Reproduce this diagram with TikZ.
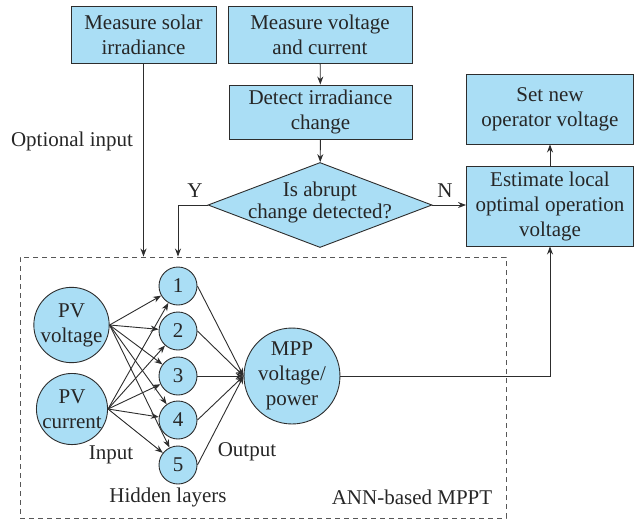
\documentclass[tikz,border=0pt]{standalone}
\usepackage{fontspec}
\setmainfont{Liberation Serif}
\usepackage{tikz}
\usetikzlibrary{shapes.geometric,arrows.meta}

\definecolor{cellblue}{RGB}{170,222,245}
\definecolor{edgegray}{RGB}{45,45,45}

\tikzset{
  every node/.style={font=\fontsize{21}{25}\selectfont, text=black!85},
  procbox/.style={draw=edgegray, line width=0.9pt, fill=cellblue,
    align=center, inner sep=0pt},
  decbox/.style={draw=edgegray, line width=0.9pt, fill=cellblue,
    diamond, inner sep=0pt, minimum width=224pt, minimum height=85pt},
  neuron/.style={draw=edgegray, line width=0.9pt, fill=cellblue,
    circle, align=center, inner sep=0pt},
  annbox/.style={draw=edgegray!80, line width=0.9pt,
    dash pattern=on 5pt off 4pt, inner sep=0pt},
  arr/.style={draw=edgegray, line width=0.9pt,
    -{Stealth[length=8pt,width=6pt]}},
  wire/.style={draw=edgegray, line width=0.9pt}
}

\begin{document}
\begin{tikzpicture}[x=1pt,y=-1pt]
\useasboundingbox (0,0) rectangle (634,520);
% flow chart boxes
\node[procbox, minimum width=145pt, minimum height=57pt] (solar) at (143.5,34.5)
  {Measure solar\\irradiance};
\node[procbox, minimum width=184pt, minimum height=57pt] (meas) at (320,34.5)
  {Measure voltage\\and current};
\node[procbox, minimum width=183pt, minimum height=54pt] (detect) at (320.5,112)
  {Detect irradiance\\change};
\node[decbox] (dec) at (320,205) {};
\node[align=center, font=\fontsize{21}{22}\selectfont] (dectxt) at (320,202)
  {Is abrupt\\change detected?};
\node[procbox, minimum width=167pt, minimum height=80pt] (est) at (550,206)
  {Estimate local\\optimal operation\\voltage};
\node[procbox, minimum width=167pt, minimum height=70pt] (setv) at (550,109)
  {Set new\\operator voltage};
% dashed frame of the network
\node[annbox, minimum width=486pt, minimum height=261pt] (ann) at (263,387.5) {};
% network nodes
\node[neuron, minimum size=70pt] (pvv) at (71.5,325) {PV\\voltage};
\node[neuron, minimum size=68pt] (pvi) at (72,409) {PV\\current};
\foreach \i/\y in {1/286,2/331,3/376,4/420,5/465}
  \node[neuron, minimum size=38pt] (h\i) at (178,\y) {\i};
\node[neuron, minimum size=92pt] (mpp) at (292,376) {MPP\\voltage/\\power};
% labels
\node (optlbl) at (72,141) {Optional input};
\node (ylbl) at (195,191) {Y};
\node (nlbl) at (445,191) {N};
\node (inlbl) at (111,455) {Input};
\node (outlbl) at (247,452) {Output};
\node (hidlbl) at (168,497) {Hidden layers};
\node (annlbl) at (412,497) {ANN-based MPPT};
% flow chart edges
\draw[arr] (meas) -- (detect);
\draw[arr] (detect) -- (dec);
\draw[arr] (solar) -- (solar |- ann.north);
\draw[arr] (dec.west) -| (h1 |- ann.north);
\draw[arr] (dec.east) -- (est.west |- dec.east);
\draw[arr] (est) -- (setv);
\draw[arr] (mpp.east) -| (est.south);
% network edges
\foreach \i in {1,...,5} {
  \draw[arr] (pvv.east) -- (h\i);
  \draw[arr] (pvi.east) -- (h\i);
  \draw[arr] (h\i.east) -- (mpp.west);
}
\end{tikzpicture}
\end{document}
